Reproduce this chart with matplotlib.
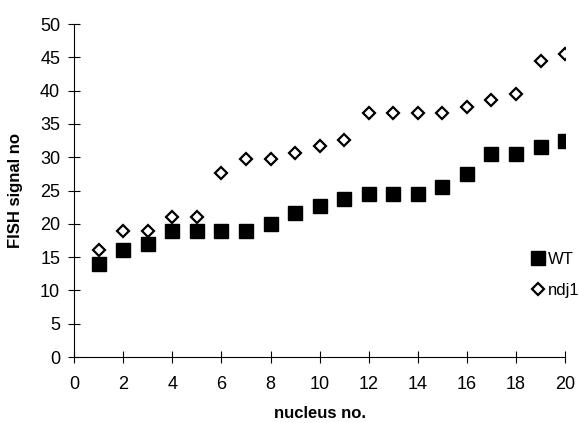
import matplotlib
matplotlib.use("Agg")
import matplotlib.pyplot as plt

# data
nucleus = list(range(1, 21))
wt = [14, 16, 17, 19, 19, 19, 19, 20, 21.7, 22.7, 23.7, 24.5, 24.5, 24.5,
      25.5, 27.5, 30.5, 30.5, 31.5, 32.5]
ndj1 = [16, 19, 19, 21, 21, 27.7, 29.7, 29.7, 30.7, 31.7, 32.6, 36.6, 36.6,
        36.6, 36.6, 37.6, 38.6, 39.5, 44.5, 45.5]
x_ticks = list(range(0, 21, 2))
y_ticks = list(range(0, 51, 5))

plt.rcParams['font.family'] = ['Liberation Sans', 'DejaVu Sans']

fig = plt.figure(figsize=(5.79, 4.23), dpi=100)
ax = fig.add_axes([0.128, 0.156, 0.848, 0.787])

ax.plot(nucleus, wt, linestyle='none', marker='s', markersize=9.5,
        color='black', label='WT')
ax.plot(nucleus, ndj1, linestyle='none', marker='D', markersize=5.8,
        markerfacecolor='white', markeredgecolor='black',
        markeredgewidth=1.6, label='ndj1')

ax.set_xlim(0, 20)
ax.set_ylim(0, 50)
ax.set_xticks(x_ticks)
ax.set_yticks(y_ticks)
ax.tick_params(axis='both', direction='inout', length=8, width=0.8,
               labelsize=13)
ax.tick_params(axis='x', pad=10)
ax.tick_params(axis='y', pad=6)
ax.spines['top'].set_visible(False)
ax.spines['right'].set_visible(False)
for s in ('left', 'bottom'):
    ax.spines[s].set_linewidth(0.8)

ax.set_xlabel('nucleus no.', fontsize=12, fontweight='bold', labelpad=9)
ax.set_ylabel('FISH signal no', fontsize=12, fontweight='bold', labelpad=12)

fig.legend(loc='upper left', bbox_to_anchor=(0.921, 0.405), frameon=False,
           fontsize=12, handlelength=0.6, handletextpad=0.25,
           labelspacing=0.95, borderpad=0, borderaxespad=0)

fig.savefig('out.png', dpi=100)
